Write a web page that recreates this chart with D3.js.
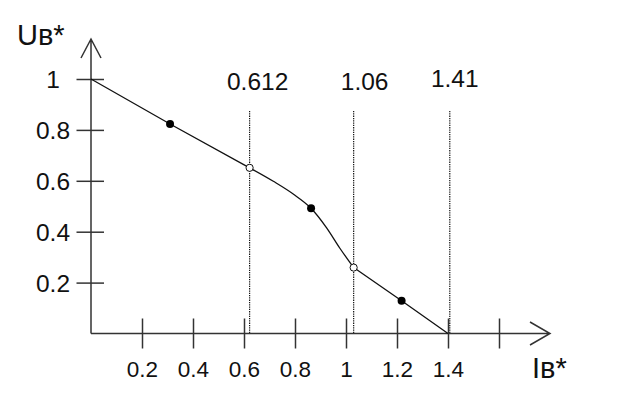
<!DOCTYPE html>
<html><head><meta charset="utf-8">
<script src="https://cdn.jsdelivr.net/npm/d3@7"></script>
<style>body{margin:0;background:#fff}svg{display:block}text{font-family:"Liberation Sans",Arial,sans-serif;fill:#111}</style>
</head><body>
<svg id="c" width="623" height="414"></svg>
<script>
// data
const xTicks = [0.2, 0.4, 0.6, 0.8, 1, 1.2, 1.4, 1.6];
const xTickLabels = ["0.2", "0.4", "0.6", "0.8", "1", "1.2", "1.4", ""];
const yTicks = [0.2, 0.4, 0.6, 0.8, 1];
const yTickLabels = ["0.2", "0.4", "0.6", "0.8", "1"];
const curveStart = [[0, 1], [0.31, 0.823], [0.622, 0.651]];
const curveMiddle = [[0.622, 0.651], [0.715, 0.598], [0.793, 0.548], [0.863, 0.492], [0.924, 0.415], [0.976, 0.335], [1.03, 0.259]];
const curveEnd = [[1.03, 0.259], [1.218, 0.129], [1.4, 0]];
const filledPoints = [[0.31, 0.823], [0.863, 0.492], [1.218, 0.129]];
const openPoints = [[0.622, 0.651], [1.03, 0.259]];
const markerX = [0.622, 1.03, 1.407];
const markerLabels = ["0.612", "1.06", "1.41"];
const yLabel = "Uв*";
const xLabel = "Iв*";

const svg = d3.select("#c");
const x = d3.scaleLinear().domain([0, 1.6]).range([91, 499]);
const y = d3.scaleLinear().domain([0, 1]).range([333.5, 79]);
const axisCol = "#333";

// vertical dotted lines
const lineTop = 111;
svg.selectAll("line.mk").data(markerX).join("line")
  .attr("x1", d => x(d)).attr("x2", d => x(d))
  .attr("y1", lineTop).attr("y2", y(0))
  .attr("stroke", "#111").attr("stroke-width", 1.2).attr("stroke-dasharray", "1.3,1");
const labelOffsets = [8, 11, 5];
const labelBase = [90, 90, 87];
svg.selectAll("text.mk").data(markerLabels).join("text")
  .attr("x", (d, i) => x(markerX[i]) + labelOffsets[i])
  .attr("y", (d, i) => labelBase[i])
  .attr("text-anchor", "middle").attr("font-size", 24.5).text(d => d);

// x axis
const xAxis = d3.axisBottom(x).tickValues(xTicks).tickSize(15).tickFormat((d, i) => xTickLabels[i]);
const gx = svg.append("g").attr("transform", `translate(0,${y(0)})`).call(xAxis);
gx.select(".domain").remove();
gx.selectAll(".tick line").attr("y1", -15).attr("y2", 15).attr("stroke", axisCol).attr("stroke-width", 1.5);
gx.selectAll(".tick text").attr("y", 43).attr("dy", 0).attr("font-size", 22.5)
  .attr("font-family", '"Liberation Sans",Arial,sans-serif').attr("fill", "#111");

// y axis
const yAxis = d3.axisLeft(y).tickValues(yTicks).tickSize(14).tickFormat((d, i) => yTickLabels[i]);
const gy = svg.append("g").attr("transform", `translate(${x(0)},0)`).call(yAxis);
gy.select(".domain").remove();
gy.selectAll(".tick line").attr("x1", -14.5).attr("x2", 13).attr("stroke", axisCol).attr("stroke-width", 1.5);
gy.selectAll(".tick text").attr("x", -38).attr("dy", 8.5).attr("text-anchor", "middle").attr("font-size", 24.5)
  .attr("font-family", '"Liberation Sans",Arial,sans-serif').attr("fill", "#111");

// axis lines with open arrows
const x0 = x(0), y0 = y(0);
svg.append("path").attr("d", `M${x0},${y0}H550M530,322L550,${y0}L530,345`)
  .attr("fill", "none").attr("stroke", axisCol).attr("stroke-width", 1.5);
svg.append("path").attr("d", `M${x0},${y0}V39M81,58L${x0},39L101,58`)
  .attr("fill", "none").attr("stroke", axisCol).attr("stroke-width", 1.5);

// axis titles
svg.append("text").attr("x", 17).attr("y", 45).attr("font-size", 29).text(yLabel);
svg.append("text").attr("x", 532).attr("y", 378).attr("font-size", 29).text(xLabel);

// curve
const lin = d3.line().x(d => x(d[0])).y(d => y(d[1]));
const mono = d3.line().x(d => x(d[0])).y(d => y(d[1])).curve(d3.curveMonotoneX);
[[curveStart, lin], [curveMiddle, mono], [curveEnd, lin]].forEach(([pts, gen]) => {
  svg.append("path").attr("d", gen(pts)).attr("fill", "none").attr("stroke", "#111").attr("stroke-width", 1.3);
});

svg.selectAll("circle.f").data(filledPoints).join("circle")
  .attr("cx", d => x(d[0])).attr("cy", d => y(d[1])).attr("r", 4).attr("fill", "#000");
svg.selectAll("circle.o").data(openPoints).join("circle")
  .attr("cx", d => x(d[0])).attr("cy", d => y(d[1])).attr("r", 3.6)
  .attr("fill", "#fff").attr("stroke", "#111").attr("stroke-width", 1);
</script>
</body></html>
